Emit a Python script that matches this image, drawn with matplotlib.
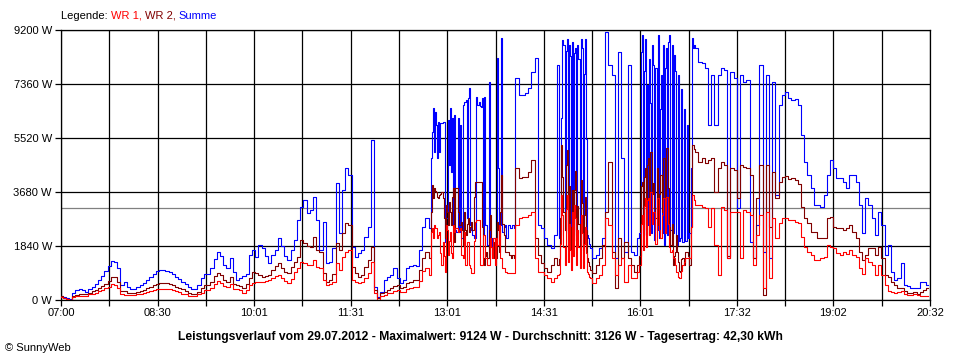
import numpy as np
import matplotlib.pyplot as plt

# Messzeitpunkte: (Start in min ab 07:00, Schritt in min, Anzahl)
abschnitte = [(0, 3, 115), (345, 1, 81), (426, 3, 13), (465, 1, 30),
              (495, 3, 15), (540, 1, 54), (594, 3, 73)]

# Leistung in W
summe = [
    # 07:00 - 12:42, alle 3 min
    150, 100, 70, 35, 240, 340, 390, 340, 280, 375,
    440, 545, 680, 820, 990, 1160, 1330, 1310, 1090, 510,
    610, 440, 390, 390, 440, 510, 580, 680, 780, 885,
    990, 1020, 1020, 1005, 955, 870, 800, 715, 630, 545,
    440, 390, 390, 510, 750, 885, 885, 1090, 1400, 1635,
    1500, 1190, 1090, 1430, 955, 680, 750, 820, 885, 1530,
    1700, 1475, 1875, 1770, 1500, 1260, 1530, 1700, 2100, 1840,
    1500, 1360, 1700, 2045, 2725, 3180, 3400, 2965, 3065, 3520,
    2725, 1700, 2670, 1250, 1305, 1760, 3975, 2280, 3750, 4490,
    4260, 1815, 1475, 1600, 1700, 2155, 2500, 5450, 440, 110,
    270, 680, 785, 850, 1090, 750, 580, 680, 1090, 1160,
    1190, 1160, 1700, 2500, 2795,
    # 12:45 - 14:05, jede Minute
    2450, 4840, 5720, 6540, 5040, 6400, 5960, 4840, 6065, 5040,
    6030, 6030, 6065, 6065, 1980, 2800, 2800, 6130, 4600, 6540,
    4360, 6200, 2555, 6300, 2400, 2320, 6200, 2320, 5960, 2110,
    2110, 6640, 6750, 6750, 6810, 2790, 6880, 7220, 2555, 2400,
    2215, 2110, 2110, 6920, 6640, 6640, 6750, 6600, 6580, 6880,
    2215, 6920, 2555, 2555, 1870, 7430, 2112, 2112, 1430, 2112,
    2112, 2112, 2112, 8245, 4500, 2555, 2555, 8926, 2320, 2500,
    2555, 2112, 2112, 2555, 2555, 2450, 2450, 2555, 2555, 2450,
    7564,
    # 14:06 - 14:42
    7565, 6985, 6985, 7040, 7210, 7780, 8245, 2555, 2450, 2110,
    1875, 1770, 2215,
    # 14:45 - 15:14, jede Minute
    8005, 2100, 2200, 6200, 8860, 8700, 2400, 8500, 8900, 2300,
    8700, 8300, 2500, 8800, 2200, 8400, 8600, 2350, 8700, 8200,
    2300, 8900, 8600, 2600, 7700, 8900, 5500, 2200, 2100, 1900,
    # 15:15 - 15:57
    1770, 1430, 1535, 1770, 2110,
    9124, 8000, 7665, 1430, 8460, 4840, 1645, 8000, 1645, 1535,
    # 16:00 - 16:53, jede Minute
    2110, 2300, 8460, 9030, 2400, 7800, 8900, 2200, 7325, 2555,
    8200, 6700, 2300, 8700, 8000, 2045, 7900, 2400, 9030, 2100,
    6500, 7665, 2300, 8700, 1875, 7900, 8600, 2200, 8800, 9030,
    2385, 8700, 2300, 8350, 7800, 2100, 1875, 7665, 2000, 2110,
    7200, 1990, 1990, 6500, 2000, 5960, 2100, 2280, 2300, 4500,
    8925, 8600, 8700, 8585,
    # 16:54 - 20:30
    8585, 8120,
    8065, 7895, 5960, 7665, 5960, 7665, 7890, 7835, 1420, 7780,
    7550, 3125, 7665, 7440, 7495, 1990, 1420, 2555, 8005, 1645,
    7665, 1420, 7440, 3575, 6645, 6985, 7075, 6870, 6815, 6840,
    6645, 5620, 4710, 4260, 3805, 3235, 3235, 3180, 3575, 4260,
    4770, 4485, 4145, 4145, 4030, 3805, 4260, 4260, 4030, 3235,
    2270, 3465, 3235, 2780, 2215, 3010, 2555, 1535, 1875, 965,
    680, 740, 1250, 510, 490, 400, 400, 400, 600, 625,
    510,
]

wr2 = [
    120, 70, 35, 10, 140, 170, 190, 200, 200, 240,
    290, 340, 410, 480, 560, 650, 770, 770, 610, 290,
    305, 240, 230, 240, 270, 290, 340, 410, 460, 510,
    560, 580, 580, 580, 545, 510, 460, 410, 360, 305,
    255, 220, 220, 270, 410, 495, 495, 610, 820, 935,
    850, 680, 610, 785, 545, 495, 480, 410, 545, 750,
    955, 910, 850, 795, 820, 850, 1020, 1160, 1250, 1090,
    955, 910, 1135, 1295, 1475, 2045, 1930, 1840, 1815, 2155,
    1700, 1635, 910, 625, 680, 885, 1930, 1700, 2270, 2615,
    2555, 1125, 920, 795, 850, 1125, 1360, 1800, 340, 60,
    240, 285, 340, 410, 480, 510, 410, 440, 580, 625,
    680, 680, 1020, 1430, 1635,
    1430, 3000, 3920, 3475, 3816, 3700, 3680, 3500, 3475, 3577,
    3600, 3680, 3475, 2800, 2112, 3237, 3000, 2555, 3339, 3000,
    2555, 3500, 3816, 1976, 3816, 3816, 2998, 2555, 2555, 2657,
    2400, 1874, 2998, 2400, 2215, 2600, 2794, 2317, 2500, 2657,
    2400, 3500, 4020, 4020, 4020, 4020, 4020, 4020, 4020, 2500,
    1431, 1192, 1500, 1635, 1431, 2400, 2896, 1800, 1533, 1976,
    1431, 1431, 1431, 2657, 2400, 1635, 3000, 4259, 2600, 2215,
    1635, 1635, 1635, 1635, 1533, 1533, 1431, 1533, 1533, 1431,
    4497,
    4490, 4150, 4200, 4200, 4375, 4770, 2110, 1535, 1260, 1080,
    965, 1190, 1430,
    1190, 1400, 2800, 5280, 4200, 3000, 2385, 4600, 5110, 1800,
    3900, 2500, 1535, 3750, 2000, 3750, 4400, 2045, 3200, 2600,
    1800, 4090, 3300, 1700, 2900, 3500, 2400, 1430, 1300, 1150,
    1020, 910, 1190, 1430, 1875,
    3010, 4710, 1645, 400, 2110, 1430, 1990, 1430, 1190, 965,
    1190, 1500, 3900, 4030, 2600, 4200, 4490, 2200, 4600, 4830,
    3500, 5055, 5055, 3600, 4000, 3135, 2800, 4500, 2555, 3600,
    4260, 4260, 3000, 4830, 4830, 3200, 5170, 5170, 3800, 2500,
    1875, 2600, 1190, 1500, 1645, 2200, 1645, 1300, 1000, 965,
    1400, 1430, 1430, 1200, 1645, 1645, 1500, 1190, 1190, 2500,
    5280, 5280, 5150, 5055,
    5055, 4710,
    4830, 4660, 4770, 4830, 3690, 4490, 4710, 4600, 1500, 4490,
    4430, 3465, 4600, 4540, 4490, 4260, 1420, 3465, 4600, 170,
    4600, 2500, 4375, 3465, 4030, 4200, 4235, 4120, 4145, 4090,
    3940, 3180, 2780, 2610, 2325, 2325, 2100, 2100, 2100, 2780,
    2840, 2500, 2440, 2440, 2385, 2440, 2555, 2325, 2100, 1645,
    1360, 1535, 1760, 1760, 1535, 1815, 1420, 850, 795, 600,
    510, 420, 400, 320, 230, 230, 285, 195, 285, 340,
    400,
]

wr1 = [
    100, 70, 35, 10, 100, 140, 150, 150, 150, 190,
    220, 255, 305, 340, 410, 460, 530, 510, 425, 190,
    170, 170, 170, 170, 190, 205, 240, 270, 305, 350,
    375, 390, 390, 390, 375, 340, 305, 270, 220, 190,
    150, 140, 140, 190, 255, 340, 325, 425, 560, 650,
    580, 475, 440, 530, 375, 390, 340, 255, 325, 510,
    580, 625, 625, 625, 650, 680, 750, 820, 850, 750,
    650, 570, 715, 955, 1080, 1305, 1250, 1190, 1190, 1360,
    1135, 1090, 680, 510, 545, 615, 1250, 1020, 1475, 1645,
    1700, 680, 625, 570, 615, 740, 910, 1300, 240, 0,
    135, 170, 230, 255, 305, 340, 285, 270, 375, 425,
    455, 440, 650, 990, 1090,
    852, 2317, 2453, 2112, 2555, 2453, 2453, 2112, 2200, 2317,
    1600, 1192, 1976, 1500, 954, 2555, 2400, 1533, 2000, 2317,
    1600, 1431, 2555, 2317, 2453, 2453, 2317, 2400, 2453, 1533,
    1533, 1431, 2317, 1192, 1192, 1976, 1976, 1192, 1100, 920,
    920, 2000, 2657, 2726, 2726, 2726, 2726, 1192, 1192, 1192,
    2215, 2215, 1431, 1431, 1192, 1192, 2112, 1800, 1431, 2112,
    2112, 1192, 2112, 1874, 1874, 2555, 1431, 1431, 1090, 1090,
    954, 954, 920, 920, 920, 920, 920, 920, 920, 920,
    2555,
    2555, 2780, 2840, 2840, 2895, 3010, 1430, 965, 965, 850,
    750, 625, 750,
    850, 900, 1900, 3575, 2900, 1800, 1190, 3100, 3575, 1300,
    2600, 1700, 1020, 3000, 1500, 3235, 2800, 1200, 2400, 1800,
    1100, 2895, 2300, 1100, 1900, 2500, 1600, 965, 900, 800,
    740, 570, 740, 850, 1190,
    2780, 2555, 1430, 850, 1190, 1430, 625, 1190, 740, 740,
    965, 1200, 2600, 2895, 1700, 3200, 3465, 1800, 3400, 3465,
    2200, 3690, 3690, 2600, 3010, 3010, 1900, 3465, 3465, 2400,
    2110, 2110, 2900, 3465, 3465, 2300, 3520, 3520, 2600, 1800,
    1645, 1700, 1430, 1430, 1200, 965, 965, 800, 740, 740,
    1000, 1190, 1190, 1300, 1430, 1430, 1430, 1430, 1430, 2500,
    3575, 3575, 3400, 3235,
    3235, 3235,
    3180, 3125, 2500, 3125, 1875, 850, 3180, 3065, 1420, 3010,
    3010, 3010, 1420, 3065, 3010, 2895, 1190, 2215, 2895, 400,
    3010, 740, 2780, 2100, 2610, 2780, 2780, 2725, 2725, 2670,
    2610, 2155, 1815, 1625, 1535, 1360, 1360, 1420, 1475, 1875,
    1815, 1785, 1590, 1535, 1625, 1560, 1700, 1520, 1475, 1080,
    875, 1420, 1305, 1190, 850, 1190, 850, 510, 320, 285,
    230, 285, 320, 195, 170, 170, 195, 170, 150, 135,
    135,
]

durchschnitt = 3126
y_werte = [0, 1840, 3680, 5520, 7360, 9200]
zeiten = ['07:00', '08:30', '10:01', '11:31', '13:01', '14:31', '16:01', '17:32', '19:02', '20:32']
tag_minuten = 812
titel = ('Leistungsverlauf vom 29.07.2012 - Maximalwert: 9124 W - '
         'Durchschnitt: 3126 W - Tagesertrag: 42,30 kWh')

minuten = np.concatenate([start + schritt * np.arange(n) for start, schritt, n in abschnitte])

plt.rcParams['font.family'] = ['Liberation Sans', 'DejaVu Sans']

fig = plt.figure(figsize=(9.6, 3.6), dpi=100)
ax = fig.add_axes([61 / 960, 60 / 360, 869 / 960, 270 / 360])

ax.axhline(durchschnitt, color='#808080', lw=0.9, zorder=1)
ax.plot(minuten, summe, color='#0000ff', lw=0.8, zorder=3, drawstyle='steps-mid')
ax.plot(minuten, wr2, color='#800000', lw=0.8, zorder=4, drawstyle='steps-mid')
ax.plot(minuten, wr1, color='#ff0000', lw=0.8, zorder=5, drawstyle='steps-mid')

ax.set_xlim(0, tag_minuten)
ax.set_ylim(0, 9200)

# Gitter alle 45 min, Beschriftung nur jede zweite Linie
xt = np.linspace(0, tag_minuten, 19)
ax.set_xticks(xt)
ax.set_xticklabels([zeiten[i // 2] if i % 2 == 0 else '' for i in range(19)], fontsize=8)
ax.set_yticks(y_werte)
ax.set_yticklabels([f'{v} W' for v in y_werte], fontsize=8)
ax.grid(True, color='black', lw=0.9, zorder=2)
ax.tick_params(axis='x', direction='out', length=4, width=0.9, pad=2)
ax.tick_params(axis='y', direction='out', length=4.5, width=0.9, pad=2)
for s in ax.spines.values():
    s.set_linewidth(0.9)
    s.set_color('black')

fig.text(0.5, 1 - 337 / 360, titel, ha='center', va='center', fontsize=8.7, fontweight='bold')
fig.text(5 / 960, 1 - 348 / 360, '\u00a9 SunnyWeb', fontsize=8, va='center')

# Legende aus farbigen Textstuecken
fig.canvas.draw()
r = fig.canvas.get_renderer()
x = 61 / 960
for s, c in [('Legende: ', 'black'), ('WR 1, ', '#ff0000'), ('WR 2, ', '#800000'), ('Summe', '#0000ff')]:
    t = fig.text(x, 1 - 16 / 360, s, color=c, fontsize=8, va='center')
    bb = t.get_window_extent(r)
    x += bb.width / fig.bbox.width

fig.savefig('out.png', dpi=100)
